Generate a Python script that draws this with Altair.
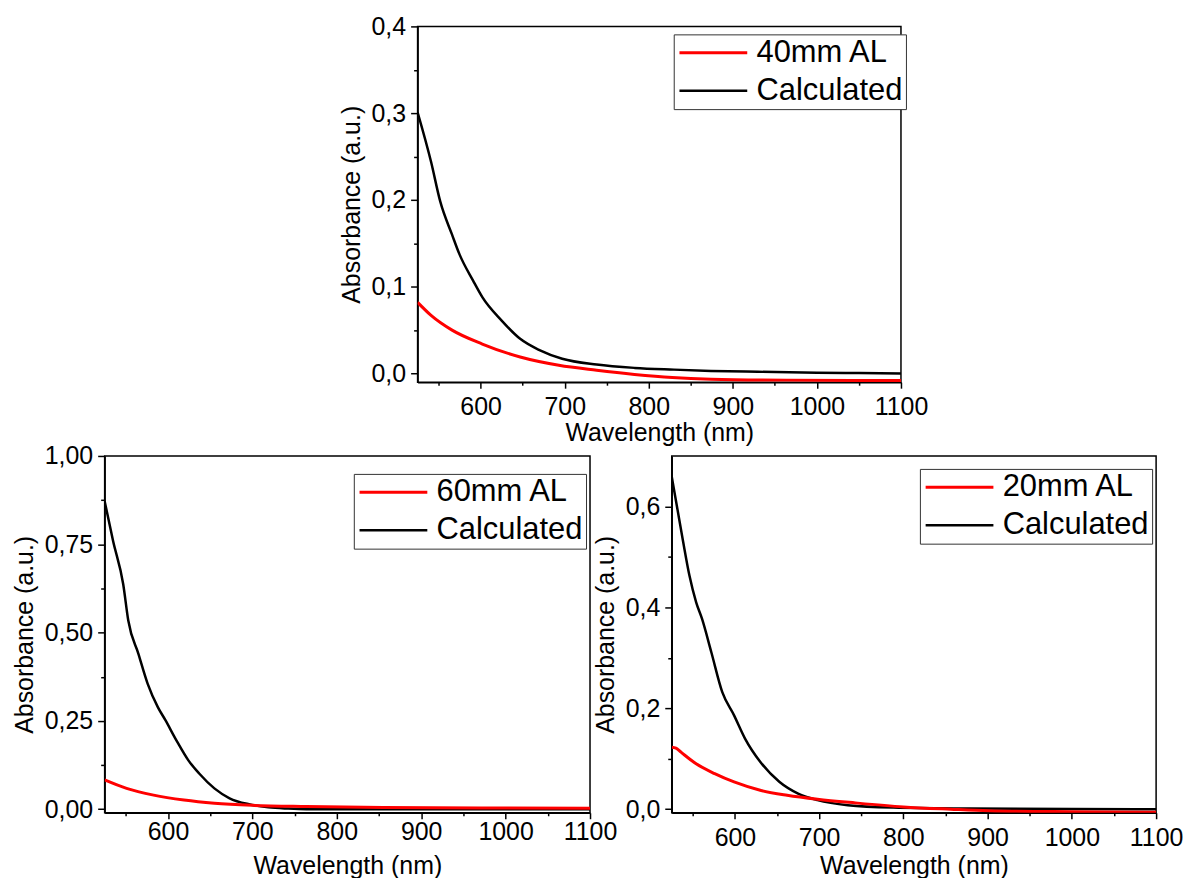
import altair as alt
import pandas as pd

FONT = "Liberation Sans"
XMAJOR = [600, 700, 800, 900, 1000, 1100]
XMINOR = [550, 650, 750, 850, 950, 1050]
XDOMAIN = [525, 1100]

# ---- top panel: 40mm AL ----
top_label = "40mm AL"
top_meas_wl = [525, 541, 566, 602, 647, 693, 738, 783, 828, 874, 964, 1100]
top_meas_val = [0.082, 0.067, 0.050, 0.034, 0.019, 0.0095, 0.0038, -0.001, -0.0046, -0.0065, -0.0076, -0.008]
top_calc_wl = [525, 541, 552, 566, 575, 591, 602, 625, 647, 670, 697, 738, 783, 830, 874, 930, 1000, 1050, 1100]
top_calc_val = [0.301, 0.244, 0.198, 0.160, 0.137, 0.107, 0.088, 0.061, 0.040, 0.027, 0.017, 0.0103, 0.0065, 0.0045, 0.003, 0.002, 0.001, 0.0005, 0.0]
top_ymajor = [0.0, 0.1, 0.2, 0.3, 0.4]
top_yminor = [0.05, 0.15, 0.25, 0.35]

# ---- bottom-left panel: 60mm AL ----
left_label = "60mm AL"
left_meas_wl = [525, 551, 583, 619, 655, 700, 764, 855, 1000, 1100]
left_meas_val = [0.083, 0.059, 0.040, 0.026, 0.017, 0.011, 0.0075, 0.0047, 0.0035, 0.003]
left_calc_wl = [525, 535, 547, 553, 565, 576, 588, 597, 610, 624, 637, 655, 673, 696, 719, 741, 764, 900, 1100]
left_calc_val = [0.872, 0.759, 0.637, 0.534, 0.44, 0.355, 0.289, 0.252, 0.195, 0.139, 0.101, 0.059, 0.031, 0.014, 0.0056, 0.002, 0.0, 0.0, 0.0]
left_ymajor = [0.0, 0.25, 0.5, 0.75, 1.0]
left_yminor = [0.125, 0.375, 0.625, 0.875]

# ---- bottom-right panel: 20mm AL ----
right_label = "20mm AL"
right_meas_wl = [525, 530, 536, 554, 576, 599, 630, 662, 698, 743, 800, 856, 901, 1000, 1100]
right_meas_val = [0.123, 0.121, 0.113, 0.090, 0.0705, 0.054, 0.0376, 0.0277, 0.0198, 0.0125, 0.0046, 0.0, -0.003, -0.005, -0.006]
right_calc_wl = [525, 538, 546, 554, 561, 572, 585, 599, 612, 630, 653, 675, 698, 734, 788, 879, 1000, 1100]
right_calc_val = [0.659, 0.535, 0.463, 0.410, 0.377, 0.311, 0.232, 0.186, 0.140, 0.094, 0.054, 0.031, 0.018, 0.008, 0.0033, 0.0013, 0.0003, 0.0]
right_ymajor = [0.0, 0.2, 0.4, 0.6]
right_yminor = [0.1, 0.3, 0.5]


def panel(label, mwl, mval, cwl, cval, ydom, ymajor, yminor, ydec,
          lx, ly, w, h, xlp, xtp):
    df = pd.concat([
        pd.DataFrame({"wl": cwl, "val": cval, "series": "Calculated"}),
        pd.DataFrame({"wl": mwl, "val": mval, "series": label}),
    ], ignore_index=True)
    xs = alt.Scale(domain=XDOMAIN, nice=False, zero=False)
    ys = alt.Scale(domain=ydom, nice=False, zero=False)
    fmt = f"replace(format(datum.value, '.{ydec}f'), '.', ',')"
    lines = alt.Chart(df).mark_line(clip=True, interpolate="monotone").encode(
        x=alt.X("wl:Q", scale=xs, axis=alt.Axis(
            values=XMAJOR, orient="bottom", title="Wavelength (nm)",
            tickSize=6, labelPadding=xlp, titlePadding=xtp, format="d",
            labelFlush=False, labelOverlap=False)),
        y=alt.Y("val:Q", scale=ys, axis=alt.Axis(
            values=ymajor, orient="left", title="Absorbance (a.u.)",
            tickSize=7, labelPadding=5, titlePadding=7, labelExpr=fmt,
            labelFlush=False, labelOverlap=False)),
        color=alt.Color("series:N", scale=alt.Scale(
            domain=[label, "Calculated"], range=["#ff0000", "#000000"]),
            legend=alt.Legend(
                title=None, orient="none", legendX=lx, legendY=ly,
                symbolType="M-1.5,0H6.5", symbolSize=289, symbolStrokeWidth=3,
                labelOffset=49, labelFontSize=31, labelFont=FONT,
                labelColor="#000000", padding=3, rowPadding=6,
                strokeColor="#333333", fillColor="#ffffff",
                labelLimit=400)),
        strokeWidth=alt.StrokeWidth("series:N", scale=alt.Scale(
            domain=[label, "Calculated"], range=[3, 2.5]), legend=None),
    )
    minor = alt.Chart(df).mark_point(opacity=0).encode(
        x=alt.X("wl:Q", scale=xs, axis=alt.Axis(
            values=XMINOR, orient="bottom", title=None, labels=False,
            domain=False, tickSize=3)),
        y=alt.Y("val:Q", scale=ys, axis=alt.Axis(
            values=yminor, orient="left", title=None, labels=False,
            domain=False, tickSize=4)),
    )
    return alt.layer(lines, minor).resolve_axis(
        x="independent", y="independent").properties(width=w, height=h)


top = panel(top_label, top_meas_wl, top_meas_val, top_calc_wl, top_calc_val,
            [-0.01, 0.4], top_ymajor, top_yminor, 1, 257, 8, 485, 357, 6, 1)
left = panel(left_label, left_meas_wl, left_meas_val, left_calc_wl, left_calc_val,
             [-0.01, 1.0], left_ymajor, left_yminor, 2, 250, 18, 487, 358, 1, 9)
right = panel(right_label, right_meas_wl, right_meas_val, right_calc_wl, right_calc_val,
              [-0.007, 0.7], right_ymajor, right_yminor, 1, 249, 13, 486, 358, 7, 3)

spacer = alt.Chart(pd.DataFrame({"a": [0]})).mark_point(opacity=0).encode(
    x=alt.X("a:Q", axis=None), y=alt.Y("a:Q", axis=None)
).properties(width=232, height=357, view=alt.ViewBackground(stroke="transparent"))

top_row = alt.hconcat(spacer, top, spacing=82, bounds="flush").resolve_scale(
    color="independent", strokeWidth="independent")
bottom_row = alt.hconcat(left, right, spacing=82, bounds="flush").resolve_scale(
    color="independent", strokeWidth="independent")

# nested rows report no height under flush bounds, so the row gap includes
# the top panel's own height (357) plus the 74 px gap
chart = alt.vconcat(
    top_row, bottom_row, spacing=431, bounds="flush"
).resolve_scale(
    color="independent", strokeWidth="independent"
).configure(
    font=FONT, padding={"left": 11, "top": 12, "right": 5, "bottom": 5}
).configure_view(
    stroke="#000000", strokeWidth=1.5
).configure_axis(
    grid=False, domainColor="#000000", domainWidth=1.5, tickColor="#000000",
    tickWidth=1.5, labelColor="#000000", titleColor="#000000",
    labelFont=FONT, titleFont=FONT, labelFontSize=25, titleFontSize=25,
    titleFontWeight="normal"
)

chart.save("out.html", embed_options={"renderer": "svg", "actions": False})
